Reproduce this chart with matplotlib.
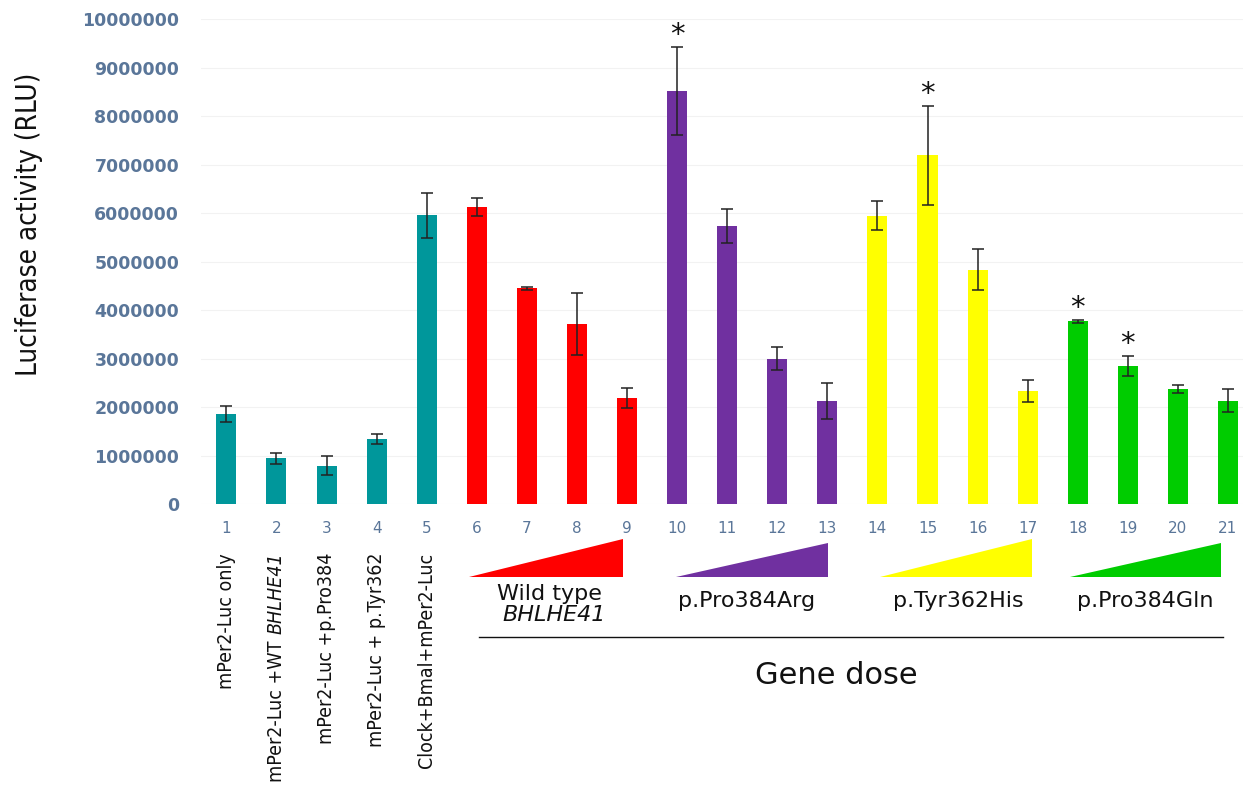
"""
Luciferase reporter assay: mPer2-Luc activity for controls and increasing
gene doses of wild type BHLHE41 and three variants.
"""

import numpy as np
import matplotlib.pyplot as plt
from matplotlib.patches import Polygon
import matplotlib.transforms as mtransforms

# ---- data ----
lanes = list(range(1, 22))
activity = [1.86e6, 0.95e6, 0.80e6, 1.35e6, 5.96e6,
            6.13e6, 4.45e6, 3.72e6, 2.19e6,
            8.52e6, 5.73e6, 3.00e6, 2.13e6,
            5.95e6, 7.20e6, 4.84e6, 2.33e6,
            3.77e6, 2.85e6, 2.38e6, 2.14e6]
sem = [0.17e6, 0.11e6, 0.19e6, 0.10e6, 0.46e6,
       0.18e6, 0.03e6, 0.64e6, 0.21e6,
       0.90e6, 0.35e6, 0.24e6, 0.38e6,
       0.30e6, 1.02e6, 0.43e6, 0.23e6,
       0.03e6, 0.20e6, 0.08e6, 0.23e6]
significant = [10, 15, 18, 19]

# (plain part, italic part) of each control label
control_labels = [("mPer2-Luc only", ""),
                  ("mPer2-Luc +WT ", "BHLHE41"),
                  ("mPer2-Luc +p.Pro384", ""),
                  ("mPer2-Luc + p.Tyr362", ""),
                  ("Clock+Bmal+mPer2-Luc", "")]
group_names = ["Wild type", "p.Pro384Arg", "p.Tyr362His", "p.Pro384Gln"]
group_lanes = [(6, 9), (10, 13), (14, 17), (18, 21)]

teal = "#00979b"
group_colors = ["#ff0000", "#7030a0", "#ffff00", "#00cc00"]
tick_color = "#5a7699"
narrow = ["Liberation Sans Narrow", "DejaVu Sans"]

colors = [teal] * 5
for (a, b), c in zip(group_lanes, group_colors):
    colors += [c] * (b - a + 1)

# ---- figure ----
fig = plt.figure(figsize=(12.43, 7.88), dpi=100)
ax = fig.add_axes([0.162, 0.360, 0.838, 0.6155])

ax.bar(lanes, activity, width=0.4, color=colors, zorder=2)
ax.errorbar(lanes, activity, yerr=sem, fmt="none", ecolor="#222222",
            elinewidth=1.1, capsize=4, capthick=1.1, zorder=3)

for lane in significant:
    i = lane - 1
    ax.text(lane, activity[i] + sem[i] - 0.04e6, "*", ha="center",
            va="bottom", fontsize=21, color="#111111")

ax.set_xlim(0.5, 21.3)
ax.set_ylim(0, 1e7)
yt = np.arange(0, 1.0e7 + 1, 1e6)
ax.set_yticks(yt)
ax.set_yticklabels([f"{int(v)}" for v in yt])
ax.set_xticks(lanes)
ax.set_xticklabels([str(n) for n in lanes])
ax.tick_params(axis="both", length=0, colors=tick_color)
ax.tick_params(axis="y", pad=16, labelsize=12.5)
ax.tick_params(axis="x", pad=12, labelsize=11)
for lab in ax.get_yticklabels():
    lab.set_fontweight("bold")
ax.grid(axis="y", color="#f2f2f2", lw=0.8, zorder=0)
for s in ax.spines.values():
    s.set_visible(False)

ax.set_ylabel("Luciferase activity (RLU)", fontsize=20, color="#111111",
              family=narrow, fontstretch="condensed")
ax.yaxis.set_label_coords(-0.152, 0.577)

# x in data units, y in axes fraction (below the axis)
trans = mtransforms.blended_transform_factory(ax.transData, ax.transAxes)
renderer = fig.canvas.get_renderer()
ax_h = ax.get_window_extent().height

# rotated control labels (text reads upward, so the italic end sits on top)
for lane, (plain, ital) in zip(range(1, 6), control_labels):
    y_top = -0.100
    if ital:
        t = ax.text(lane, y_top, ital, rotation=90, ha="center", va="top",
                    transform=trans, fontsize=14, color="#111111",
                    family=narrow, fontstretch="condensed", style="italic")
        y_top -= t.get_window_extent(renderer).height / ax_h
    ax.text(lane, y_top, plain, rotation=90, ha="center", va="top",
            transform=trans, fontsize=14, color="#111111",
            family=narrow, fontstretch="condensed")

# dose triangles and group names
tri_x = [(5.84, 8.91), (9.97, 13.02), (14.05, 17.08), (17.84, 20.87)]
tri_top = [-0.072, -0.080, -0.072, -0.080]
label_x = [7.45, 11.38, 15.61, 19.34]
label_y = [-0.184, -0.200, -0.200, -0.200]
for (x0, x1), top, c, name, lx, ly in zip(tri_x, tri_top, group_colors,
                                          group_names, label_x, label_y):
    tri = Polygon([(x0, -0.150), (x1, -0.150), (x1, top)], closed=True,
                  facecolor=c, edgecolor="none", transform=trans,
                  clip_on=False)
    ax.add_patch(tri)
    ax.text(lx, ly, name, ha="center", va="center", transform=trans,
            fontsize=16, color="#111111")
ax.text(7.55, -0.229, "BHLHE41", ha="center", va="center", transform=trans,
        fontsize=16, style="italic", color="#111111")

# gene dose bracket line and title
ax.plot([6.05, 20.9], [-0.274, -0.274], color="#111111", lw=1.0,
        transform=trans, clip_on=False)
ax.text(13.18, -0.353, "Gene dose", ha="center", va="center",
        transform=trans, fontsize=22, color="#111111")

fig.savefig("out.png", dpi=100)
